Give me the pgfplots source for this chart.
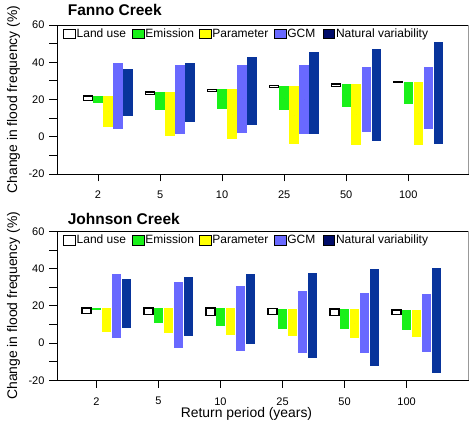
\documentclass[border=0pt]{standalone}
\usepackage{pgfplots}
\pgfplotsset{compat=1.18}
\usepackage{pgfplotstable}
\usepackage{fontspec}
\setmainfont{Liberation Sans}

\definecolor{cEm}{RGB}{25,240,25}
\definecolor{cPa}{RGB}{255,255,0}
\definecolor{cGC}{RGB}{105,105,255}
\definecolor{cNV}{RGB}{8,52,155}
\definecolor{cNVkey}{RGB}{0,12,105}

% Ranges (low / high) of the change in flood frequency, per source of uncertainty
% x: 0=2, 1=5, 2=10, 3=25, 4=50, 5=100 year return period
\pgfplotstableread{
x lulo luhi emlo emhi palo pahi gclo gchi nvlo nvhi
0 19.3 21.9 18.3 21.9  5.1 21.9 4.3 39.4 11.1 36.2
1 22.6 24.0 14.4 24.0  0.4 24.0 1.5 38.4  7.9 39.8
2 24.4 25.5 15.1 25.5 -1.4 25.5 2.2 38.7  6.1 42.6
3 26.4 27.6 14.4 27.2 -3.9 27.2 1.5 38.4  1.5 45.3
4 27.1 28.3 15.8 28.3 -4.3 28.3 2.6 37.3 -2.1 47.3
5 29.3 29.6 17.6 29.4 -4.6 29.4 4.0 37.6 -3.9 50.9
}\fanno

\pgfplotstableread{
x lulo luhi emlo emhi palo pahi gclo gchi nvlo nvhi
0 15.9 18.8 17.7 18.8 6.2 18.8  2.9 37.1   8.0 34.2
1 15.2 18.8 10.9 18.8 5.3 18.8 -2.4 32.8   4.0 35.6
2 14.9 18.8  8.9 18.8 4.4 18.8 -4.2 30.8  -0.3 37.1
3 15.2 18.4  7.3 18.4 4.0 18.4 -5.3 27.7  -8.1 37.6
4 14.8 18.3  7.6 18.3 2.6 18.3 -5.3 27.0 -12.1 39.9
5 15.2 17.7  6.9 17.7 3.0 17.7 -4.6 26.3 -15.9 40.5
}\johnson

% floating bar: #1 table, #2 low column, #3 high column, #4 x offset,
% #5 colour, #6 bar width, #7 extra half-length in data units
\newcommand\rangebar[7]{%
  \addplot[forget plot, only marks, mark size=0pt,
    mark options={draw=none, fill=none},
    error bars/.cd, y dir=both, y explicit, error mark=none,
    error bar style={draw=#5, line width=#6}]
  table[x expr=\thisrow{x}+#4,
        y expr=(\thisrow{#2}+\thisrow{#3})/2,
        y error expr={max((\thisrow{#3}-\thisrow{#2})/2+(#7),0)}] {#1};
}
% space after a legend text
\newcommand\gap[1]{\rule{#1}{0pt}}
\newcommand\panelbars[1]{%
  \rangebar{#1}{lulo}{luhi}{-0.161}{black}{10.2pt}{0.35}
  \rangebar{#1}{lulo}{luhi}{-0.161}{white}{7.6pt}{-0.35}
  \rangebar{#1}{emlo}{emhi}{0}{cEm}{9.4pt}{0}
  \rangebar{#1}{palo}{pahi}{0.161}{cPa}{9.4pt}{0}
  \rangebar{#1}{gclo}{gchi}{0.323}{cGC}{9.4pt}{0}
  \rangebar{#1}{nvlo}{nvhi}{0.484}{cNV}{9.4pt}{0}
  \addlegendimage{sq=white}\addlegendentry{Land use\gap{5.1pt}}
  \addlegendimage{sq=cEm}\addlegendentry{Emission\gap{4.1pt}}
  \addlegendimage{sq=cPa}\addlegendentry{Parameter\gap{4.8pt}}
  \addlegendimage{sq=cGC}\addlegendentry{GCM\gap{6.5pt}}
  \addlegendimage{sq=cNVkey}\addlegendentry{Natural variability}
  \draw[gray!80, line width=0.9pt] (rel axis cs:1,0) -- (rel axis cs:1,1);
}

\tikzset{paneltitle/.style={anchor=base west, font=\bfseries\fontsize{15.5}{18}\selectfont}}

\pgfplotsset{
  sq/.style={legend image code/.code={%
      \draw[black, line width=0.7pt, fill=#1] (0pt,-4.8pt) rectangle (11.5pt,4.8pt);}},
  panel/.style={
    width=411pt, height=149pt, scale only axis, clip=false,
    ymin=-20, ymax=60,
    ytick={-20,0,20,40,60}, minor ytick={-10,10,30,50},
    xtick={0,...,5}, xticklabels={2,5,10,25,50,100},
    tick align=outside, tick pos=left,
    major tick length=7.5pt, minor tick length=7.5pt,
    tick style={black, line width=0.8pt},
    axis line style={black, line width=0.9pt},
    /pgf/number format/assume math mode=true,
    ticklabel style={font=\fontsize{11}{13}\selectfont},
    yticklabel style={xshift=-1.5pt},
    xticklabel style={yshift=-6pt},
    ylabel={Change in flood frequency (\%)},
    ylabel style={at={(rel axis cs:-0.0973,0.5)}, anchor=base,
      font=\fontsize{13.9}{16}\selectfont},
    legend columns=-1,
    legend style={at={(rel axis cs:0,1)}, anchor=north west,
      xshift=6.3pt, yshift=-2.5pt, draw=none, fill=none,
      inner xsep=0pt, inner ysep=0pt,
      nodes={inner sep=1pt},
      font=\fontsize{12}{14}\selectfont},
  },
}

\begin{document}
\begin{tikzpicture}
\useasboundingbox (-57pt,-41.7pt) rectangle (414pt,380.3pt);

\begin{axis}[panel, at={(0pt,206.3pt)},
  xmin=-0.661, xmax=5.963]
  \panelbars{\fanno}
  \node[paneltitle] at (rel axis cs:0.0178,1.067) {Fanno Creek};
\end{axis}

\begin{axis}[panel, at={(0pt,0pt)},
  xmin=-0.635, xmax=5.99,
  xlabel={Return period (years)},
  xlabel style={at={(rel axis cs:0.461,-0.253)}, anchor=base,
    font=\fontsize{13.9}{16}\selectfont}]
  \panelbars{\johnson}
  \node[paneltitle] at (rel axis cs:0.0178,1.045) {Johnson Creek};
\end{axis}
\end{tikzpicture}
\end{document}
